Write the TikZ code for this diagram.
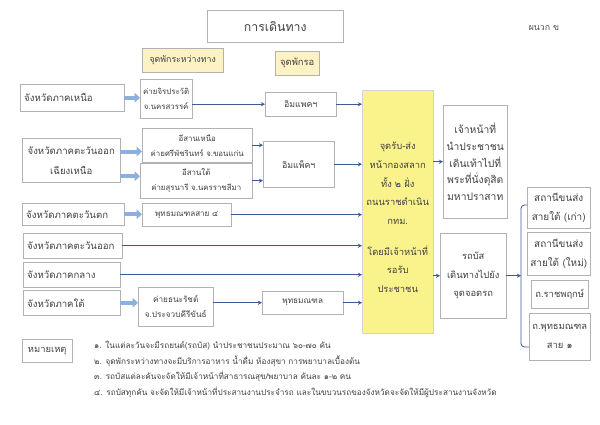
\documentclass[tikz,border=0pt]{standalone}
\usepackage{fontspec}
\setmainfont[Script=Thai]{Loma}
\usetikzlibrary{arrows.meta}
\definecolor{hubyellow}{RGB}{250,243,140}
\definecolor{tagyellow}{RGB}{252,242,196}
\definecolor{linkblue}{RGB}{60,90,150}
\definecolor{fatblue}{RGB}{140,175,220}
\begin{document}
\begin{tikzpicture}[x=0.03cm, y=-0.03cm,
    spot/.style args={#1/#2/#3/#4}{anchor=north west, at={(#1,#2)},
        minimum width={(#3-#1)*0.03cm}, minimum height={(#4-#2)*0.03cm}},
    box/.style={draw=gray!60, inner sep=0pt, align=center, text=black!75,
        font=\fontsize{8}{14}\selectfont},
    tag/.style={box, fill=tagyellow},
    region/.style={box, align=left, inner xsep=0.12cm,
        font=\fontsize{8.2}{14}\selectfont},
    camp/.style={box, font=\fontsize{6.7}{12.8}\selectfont},
    hub/.style={box, fill=hubyellow, draw=gray!35, font=\fontsize{8}{16}\selectfont},
    link/.style={draw=linkblue, line width=0.7pt, -{Stealth[length=3.5pt,width=3.5pt]}},
    fat/.style={draw=fatblue, line width=3.5pt, -{Triangle[length=4.5pt,width=8pt]}},
    bracket/.style={draw=linkblue, line width=0.7pt, rounded corners=3pt}
]
    \useasboundingbox (0,0) rectangle (600,424);
    % title row
    \node[box, spot=207/10/343/42, font=\fontsize{10.5}{12}\selectfont] (title) {การเดินทาง};
    \node[text=black!70, font=\fontsize{7.5}{9}\selectfont] (annex) at (544,28) {ผนวก ข};
    \node[tag, spot=142/48/223/72, font=\fontsize{7.5}{9}\selectfont] (midstop) {จุดพักระหว่างทาง};
    \node[tag, spot=275/51/319/75] (waitstop) {จุดพักรอ};
    % regions on the left
    \node[region, spot=20/84/124/111, text width=2.88cm] (north) {จังหวัดภาคเหนือ};
    \node[box, spot=22/138/120/182, font=\fontsize{8.2}{17}\selectfont] (ne) {จังหวัดภาคตะวันออก\\เฉียงเหนือ};
    \node[region, spot=22/203/124/225, text width=2.82cm] (west) {จังหวัดภาคตะวันตก};
    \node[region, spot=23/233/122/258, text width=2.73cm] (east) {จังหวัดภาคตะวันออก};
    \node[region, spot=23/262/120/287, text width=2.67cm] (central) {จังหวัดภาคกลาง};
    \node[region, spot=23/290/120/315, text width=2.67cm] (south) {จังหวัดภาคใต้};
    % stops on the way
    \node[camp, spot=140/79/192/118] (jira) {ค่ายจิรประวัติ\\จ.นครสวรรค์};
    \node[camp, spot=142/128/252/162] (isan1) {อีสานเหนือ\\ค่ายศรีพัชรินทร์ จ.ขอนแก่น};
    \node[camp, spot=140/163/252/198] (isan2) {อีสานใต้\\ค่ายสุรนารี จ.นครราชสีมา};
    \node[box, spot=142/203/231/226, font=\fontsize{6.9}{9}\selectfont] (budd4) {พุทธมณฑลสาย ๔};
    \node[camp, spot=138/287/213/326, font=\fontsize{7}{13}\selectfont] (thana) {ค่ายธนะรัชต์\\จ.ประจวบคีรีขันธ์};
    % waiting points
    \node[box, spot=265/92/336/116, font=\fontsize{7.5}{9}\selectfont] (impact1) {อิมแพคฯ};
    \node[box, spot=263/141/334/187, font=\fontsize{7.5}{9}\selectfont] (impact2) {อิมแพ็คฯ};
    \node[box, spot=262/291/343/314, font=\fontsize{7}{9}\selectfont] (budd) {พุทธมณฑล};
    % drop-off point
    \node[hub, spot=362/90/433/333] (hub) {\\จุดรับ-ส่ง\\หน้ากองสลาก\\ทั้ง ๒ ฝั่ง\\ถนนราชดำเนิน\\กทม.\\[10pt]โดยมีเจ้าหน้าที่\\รอรับ\\ประชาชน};
    \node[box, spot=443/105/507/218, font=\fontsize{8.8}{14.5}\selectfont] (staff) {เจ้าหน้าที่\\นำประชาชน\\เดินเท้าไปที่\\พระที่นั่งดุสิต\\มหาปราสาท};
    \node[box, spot=440/233/506/318, font=\fontsize{8}{15.7}\selectfont] (bus) {รถบัส\\เดินทางไปยัง\\จุดจอดรถ};
    % parking
    \node[box, spot=527/187/590/228, font=\fontsize{8.5}{16}\selectfont] (sbt1) {สถานีขนส่ง\\สายใต้ (เก่า)};
    \node[box, spot=527/232/590/275, font=\fontsize{8.5}{16}\selectfont] (sbt2) {สถานีขนส่ง\\สายใต้ (ใหม่)};
    \node[box, spot=531/280/588/308] (rat) {ถ.ราชพฤกษ์};
    \node[box, spot=529/313/590/360, font=\fontsize{8}{16}\selectfont] (budd1) {ถ.พุทธมณฑล\\สาย ๑};
    % notes
    \node[box, spot=22/339/72/362] (remark) {หมายเหตุ};
    \node[anchor=north west, inner sep=0pt, align=left, text=black!75,
        font=\fontsize{7}{13.2}\selectfont] (notes) at (94,341) {%
        ๑. ในแต่ละวันจะมีรถยนต์(รถบัส) นำประชาชนประมาณ ๖๐-๗๐ คัน\\
        ๒. จุดพักระหว่างทางจะมีบริการอาหาร น้ำดื่ม ห้องสุขา การพยาบาลเบื้องต้น\\
        ๓. รถบัสแต่ละคันจะจัดให้มีเจ้าหน้าที่สาธารณสุข/พยาบาล คันละ ๑-๒ คน\\
        ๔. รถบัสทุกคัน จะจัดให้มีเจ้าหน้าที่ประสานงานประจำรถ และในขบวนรถของจังหวัดจะจัดให้มีผู้ประสานงานจังหวัด};
    % connectors
    \draw[fat] (north.east) -- (north.east -| jira.west);
    \draw[link] (jira.east |- impact1.west) -- (impact1.west);
    \draw[link] (impact1.east) -- (impact1.east -| hub.west);
    \draw[fat] (ne.10) -- (ne.10 -| isan1.west);
    \draw[fat] (ne.-18) -- (ne.-18 -| isan2.west);
    \draw[link] (isan1.east) -- (isan1.east -| impact2.west);
    \draw[link] (isan2.east) -- (isan2.east -| impact2.west);
    \draw[link] (impact2.east) -- (impact2.east -| hub.west);
    \draw[fat] (west.east) -- (west.east -| budd4.west);
    \draw[link] (budd4.east) -- (budd4.east -| hub.west);
    \draw[link] (east.east) -- (east.east -| hub.west);
    \draw[link] (central.east) -- (central.east -| hub.west);
    \draw[fat] (south.east) -- (south.east -| thana.west);
    \draw[link] (thana.east |- budd.west) -- (budd.west);
    \draw[link] (budd.east) -- (budd.east -| hub.west);
    \draw[link] (hub.east |- staff.west) -- (staff.west);
    \draw[link] (hub.east |- bus.west) -- (bus.west);
    \coordinate (brtop) at (521,205);
    \coordinate (brbot) at (521,347);
    \draw[link] (bus.east) -- (bus.east -| brtop);
    \draw[bracket] (brtop -| sbt1.west) -- (brtop) -- (brbot) -- (brbot -| budd1.west);
\end{tikzpicture}
\end{document}
